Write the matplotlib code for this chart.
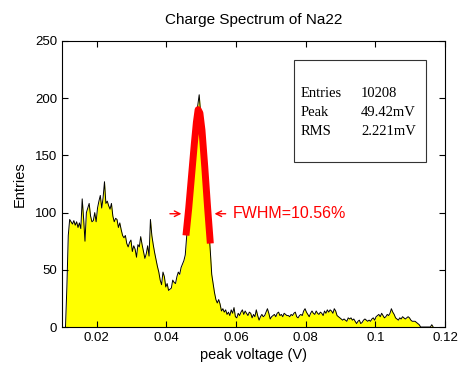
import numpy as np
import matplotlib
matplotlib.use("Agg")
import matplotlib.pyplot as plt
from matplotlib.patches import Rectangle

plt.rcParams["font.family"] = ["Liberation Sans", "DejaVu Sans"]

# histogram: first bin centre and bin width (V)
first_centre = 0.0110
bin_width = 0.0004

# counts per bin in chunks of 10 bins
counts_compton = [
    0, 35, 80, 94, 92, 90, 93, 89, 92, 87,
    91, 86, 112, 95, 75, 100, 104, 108, 97, 92,
    93, 100, 92, 104, 110, 115, 104, 113, 127, 108,
    110, 106, 103, 108, 97, 92, 95, 94, 87, 91,
    85, 80, 78, 80, 73, 70, 74, 76, 66, 71,
    68, 61, 72, 70, 79, 72, 66, 60, 64, 71,
    62, 94, 80, 72, 65, 59, 53, 48, 41, 37,
    48, 44, 35, 38, 32, 33, 34, 41, 39, 38,
]
counts_peak = [
    44, 48, 46, 52, 55, 58, 63, 79, 92, 106,
    122, 140, 158, 174, 186, 194, 203, 188, 172, 152,
    133, 114, 97, 84, 66, 46, 38, 30, 24, 21,
]
counts_tail = [
    24, 20, 14, 16, 13, 15, 11, 13, 10, 15,
    12, 17, 9, 8, 12, 10, 13, 15, 11, 14,
    12, 10, 13, 12, 8, 11, 9, 15, 10, 6,
    9, 11, 9, 10, 13, 16, 12, 7, 9, 10,
    11, 9, 12, 13, 10, 11, 9, 12, 11, 10,
    10, 9, 11, 10, 12, 13, 9, 8, 10, 11,
    10, 14, 16, 13, 11, 9, 12, 14, 12, 11,
    14, 12, 11, 13, 12, 10, 14, 12, 15, 13,
    15, 14, 12, 16, 14, 10, 9, 8, 7, 6,
    7, 6, 5, 8, 7, 8, 6, 7, 5, 3,
    5, 6, 3, 4, 6, 7, 6, 5, 6, 5,
    7, 8, 6, 9, 10, 11, 9, 12, 10, 8,
    9, 11, 10, 12, 16, 13, 11, 8, 7, 6,
    8, 7, 9, 8, 7, 8, 9, 8, 6, 5,
    5, 5, 4, 3, 2, 0, 0, 0, 0, 0,
    0, 0, 0, 2, 0,
]

# gaussian fit drawn over the photopeak (red line)
fit_x = [0.0456, 0.0464, 0.0472, 0.0480, 0.0486, 0.0491, 0.0496, 0.0502, 0.0510, 0.0518, 0.0526]
fit_y = [80, 104, 132, 160, 179, 190, 187, 172, 140, 105, 73]

stats_labels = ["Entries", "Peak", "RMS"]
stats_values = ["10208", "49.42mV", "2.221mV"]
fwhm_text = "FWHM=10.56%"
fwhm_level = 99

counts = np.array(counts_compton + counts_peak + counts_tail, dtype=float)
centres = first_centre + bin_width * np.arange(len(counts))

fig = plt.figure(figsize=(4.61, 3.76), dpi=100)
ax = fig.add_axes([0.1345, 0.1303, 0.8308, 0.7607])

ax.fill_between(centres, counts, color="#ffff00", lw=0)
ax.plot(centres, counts, color="black", lw=0.7)
ax.plot(fit_x, fit_y, color="#ff0000", lw=5, solid_capstyle="butt")

# FWHM arrows and label
ax.annotate("", xy=(0.0451, fwhm_level), xytext=(0.0402, fwhm_level),
            arrowprops=dict(arrowstyle="->", color="red", lw=1.0))
ax.annotate("", xy=(0.0530, fwhm_level), xytext=(0.0578, fwhm_level),
            arrowprops=dict(arrowstyle="->", color="red", lw=1.0))
ax.text(0.0589, fwhm_level, fwhm_text, color="red", fontsize=11.5,
        va="center", ha="left")

# statistics box
ax.add_patch(Rectangle((0.606, 0.577), 0.344, 0.357, transform=ax.transAxes,
                       fill=False, edgecolor="#333333", lw=0.8))
for i, (lab, val) in enumerate(zip(stats_labels, stats_values)):
    yy = 0.818 - i * 0.067
    ax.text(0.624, yy, lab, transform=ax.transAxes, family="Liberation Serif",
            fontsize=10.5, va="center")
    ax.text(0.781, yy, val, transform=ax.transAxes, family="Liberation Serif",
            fontsize=10.5, va="center")

ax.set_xlim(0.01, 0.12)
ax.set_ylim(0, 250)
ax.set_xticks([0.02, 0.04, 0.06, 0.08, 0.1, 0.12])
ax.set_xticklabels(["0.02", "0.04", "0.06", "0.08", "0.1", "0.12"])
ax.set_yticks([0, 50, 100, 150, 200, 250])
ax.tick_params(direction="in", top=True, right=True, length=4, width=0.8,
               labelsize=9.5)
for s in ax.spines.values():
    s.set_linewidth(0.8)

ax.set_title("Charge Spectrum of Na22", fontsize=11, pad=12)
ax.set_xlabel("peak voltage (V)", fontsize=10.5, labelpad=3)
ax.set_ylabel("Entries", fontsize=10.5, labelpad=6)

fig.savefig("out.png", dpi=100)
